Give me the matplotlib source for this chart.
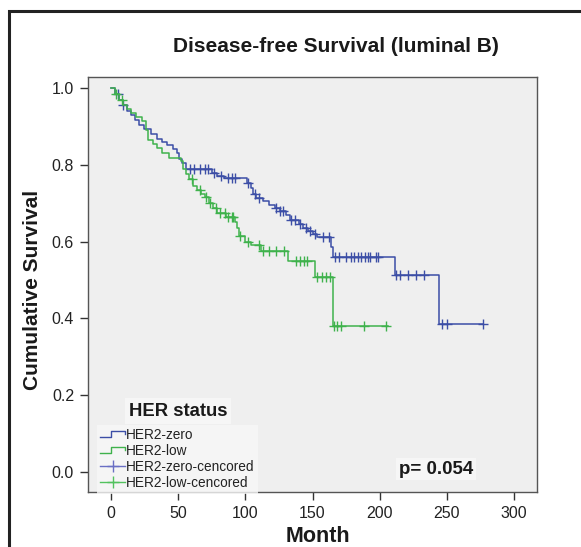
import numpy as np
import matplotlib
matplotlib.use("Agg")
import matplotlib.pyplot as plt
from matplotlib.lines import Line2D
from matplotlib.patches import Rectangle
from matplotlib.legend_handler import HandlerBase

plt.rcParams['font.family'] = ['Liberation Sans', 'DejaVu Sans']

# HER2-zero: step times (months) and survival after each step
zero_times = [0, 3, 6, 9, 12, 15, 18, 21, 25, 30, 34, 38, 42, 46, 49, 51, 53, 56,
              75, 79, 84, 101, 104, 106, 108, 113, 118, 122, 126, 130, 133, 140,
              143, 147, 150, 153, 164, 165, 211, 244]
zero_surv = [1.0, 0.985, 0.97, 0.955, 0.94, 0.93, 0.918, 0.905, 0.893, 0.88, 0.868,
             0.86, 0.852, 0.84, 0.83, 0.815, 0.805, 0.79, 0.779, 0.77, 0.765, 0.753,
             0.74, 0.725, 0.713, 0.705, 0.695, 0.688, 0.68, 0.668, 0.655, 0.645,
             0.635, 0.627, 0.62, 0.612, 0.585, 0.56, 0.513, 0.386]
zero_end = 277
zero_censored = [5, 9, 59, 62, 66, 70, 72, 77, 82, 87, 90, 92, 102, 107, 110, 123,
                 126, 128, 134, 137, 141, 145, 148, 152, 158, 162, 167, 170, 175,
                 179, 181, 184, 186, 189, 191, 193, 197, 199, 212, 215, 221, 227,
                 233, 246, 250, 277]

# HER2-low
low_times = [0, 3, 6, 9, 12, 15, 19, 23, 26, 28, 31, 34, 38, 43, 52, 54, 56, 58,
             61, 64, 67, 70, 73, 76, 79, 86, 92, 94, 95, 100, 104, 112, 132, 152, 165]
low_surv = [1.0, 0.985, 0.97, 0.955, 0.945, 0.935, 0.925, 0.915, 0.89, 0.865, 0.855,
            0.845, 0.83, 0.818, 0.81, 0.79, 0.775, 0.762, 0.745, 0.735, 0.725, 0.715,
            0.7, 0.688, 0.675, 0.665, 0.65, 0.635, 0.615, 0.6, 0.59, 0.575, 0.549,
            0.508, 0.38]
low_end = 206
low_censored = [4, 8, 60, 66, 71, 74, 78, 81, 85, 87, 90, 91, 96, 102, 110, 113,
                118, 123, 129, 138, 141, 144, 146, 153, 157, 160, 163, 166, 168,
                171, 188, 205]

x_ticks = [0, 50, 100, 150, 200, 250, 300]
y_ticks = [0.0, 0.2, 0.4, 0.6, 0.8, 1.0]

blue = "#3c4ea6"
green = "#3fb24c"
blue_c = "#6a6fc4"
green_c = "#52c25e"


def surv_at(times, surv, t):
    i = np.searchsorted(times, t, side='right') - 1
    return np.array(surv)[i]


class StepHandler(HandlerBase):
    def create_artists(self, legend, orig_handle, xdescent, ydescent, width,
                       height, fontsize, trans):
        x0, y0 = -xdescent, -ydescent
        xs = [x0, x0 + 0.45 * width, x0 + 0.45 * width, x0 + width, x0 + width]
        ys = [y0 + 0.2 * height, y0 + 0.2 * height, y0 + 0.85 * height,
              y0 + 0.85 * height, y0 + 0.55 * height]
        ln = Line2D(xs, ys, color=orig_handle.get_color(), lw=1)
        ln.set_transform(trans)
        return [ln]


fig = plt.figure(figsize=(5.81, 5.47), dpi=100)
fig.patches.append(Rectangle((9 / 581, -0.05), 1.2, 1.05 - 11 / 547,
                             transform=fig.transFigure, fill=False,
                             edgecolor="#222222", lw=2.2))

ax = fig.add_axes([88 / 581, 1 - 492 / 547, (537 - 88) / 581, (492 - 77) / 547])
ax.set_facecolor("#efefef")
for s in ax.spines.values():
    s.set_color("#555555")
    s.set_linewidth(1.0)

for times, surv, end, cens, col in [
        (zero_times, zero_surv, zero_end, zero_censored, blue),
        (low_times, low_surv, low_end, low_censored, green)]:
    xs = list(times) + [end]
    ys = list(surv) + [surv[-1]]
    ax.step(xs, ys, where='post', color=col, lw=1.1)
    cy = [surv_at(times, surv, c) for c in cens]
    ax.plot(cens, cy, linestyle='none', marker='+', ms=7, mew=1.0, color=col)

ax.set_xlim(-17, 317)
ax.set_ylim(-0.053, 1.029)
ax.set_xticks(x_ticks)
ax.set_yticks(y_ticks)
ax.set_yticklabels([f"{v:.1f}" for v in y_ticks])
ax.tick_params(direction='out', length=6, width=1, color="#333333",
               labelsize=11.5, labelcolor="#222222", pad=4)

fig.text(336 / 581, 1 - 46 / 547, "Disease-free Survival (luminal B)",
         ha='center', va='center', fontsize=15, fontweight='bold', color="#1a1a1a")
fig.text(33 / 581, 1 - 290 / 547, "Cumulative Survival", rotation=90,
         ha='center', va='center', fontsize=15, fontweight='bold', color="#1a1a1a")
fig.text(318 / 581, 1 - 537 / 547, "Month", ha='center', va='center',
         fontsize=15.5, fontweight='bold', color="#1a1a1a")

# p value
fig.text(436 / 581, 1 - 469 / 547, "p= 0.054", ha='center', va='center',
         fontsize=13.5, fontweight='bold', color="#1a1a1a",
         bbox=dict(facecolor="#f6f6f6", edgecolor='none', pad=2))

# legend
fig.text(178 / 581, 1 - 411 / 547, "HER status", ha='center', va='center',
         fontsize=13.3, fontweight='bold', color="#1a1a1a",
         bbox=dict(facecolor="#f6f6f6", edgecolor='none', pad=3))

h_zero = Line2D([], [], color=blue, lw=1)
h_low = Line2D([], [], color=green, lw=1)
h_zero_c = Line2D([], [], color=blue_c, lw=1, marker='+', ms=9, mew=1)
h_low_c = Line2D([], [], color=green_c, lw=1, marker='+', ms=9, mew=1)
leg = fig.legend([h_zero, h_low, h_zero_c, h_low_c],
                 ["HER2-zero", "HER2-low", "HER2-zero-cencored", "HER2-low-cencored"],
                 handler_map={h_zero: StepHandler(), h_low: StepHandler()},
                 loc='upper left', bbox_to_anchor=(97 / 581, 1 - 425 / 547),
                 fontsize=9.8, frameon=True, fancybox=False, numpoints=1,
                 handlelength=1.8, handletextpad=0.1, labelspacing=0.14,
                 borderpad=0.25, borderaxespad=0)
leg.get_frame().set_facecolor("#f7f7f7")
leg.get_frame().set_edgecolor('none')
for t in leg.get_texts():
    t.set_color("#222222")

fig.savefig("out.png", dpi=100, facecolor='white')
